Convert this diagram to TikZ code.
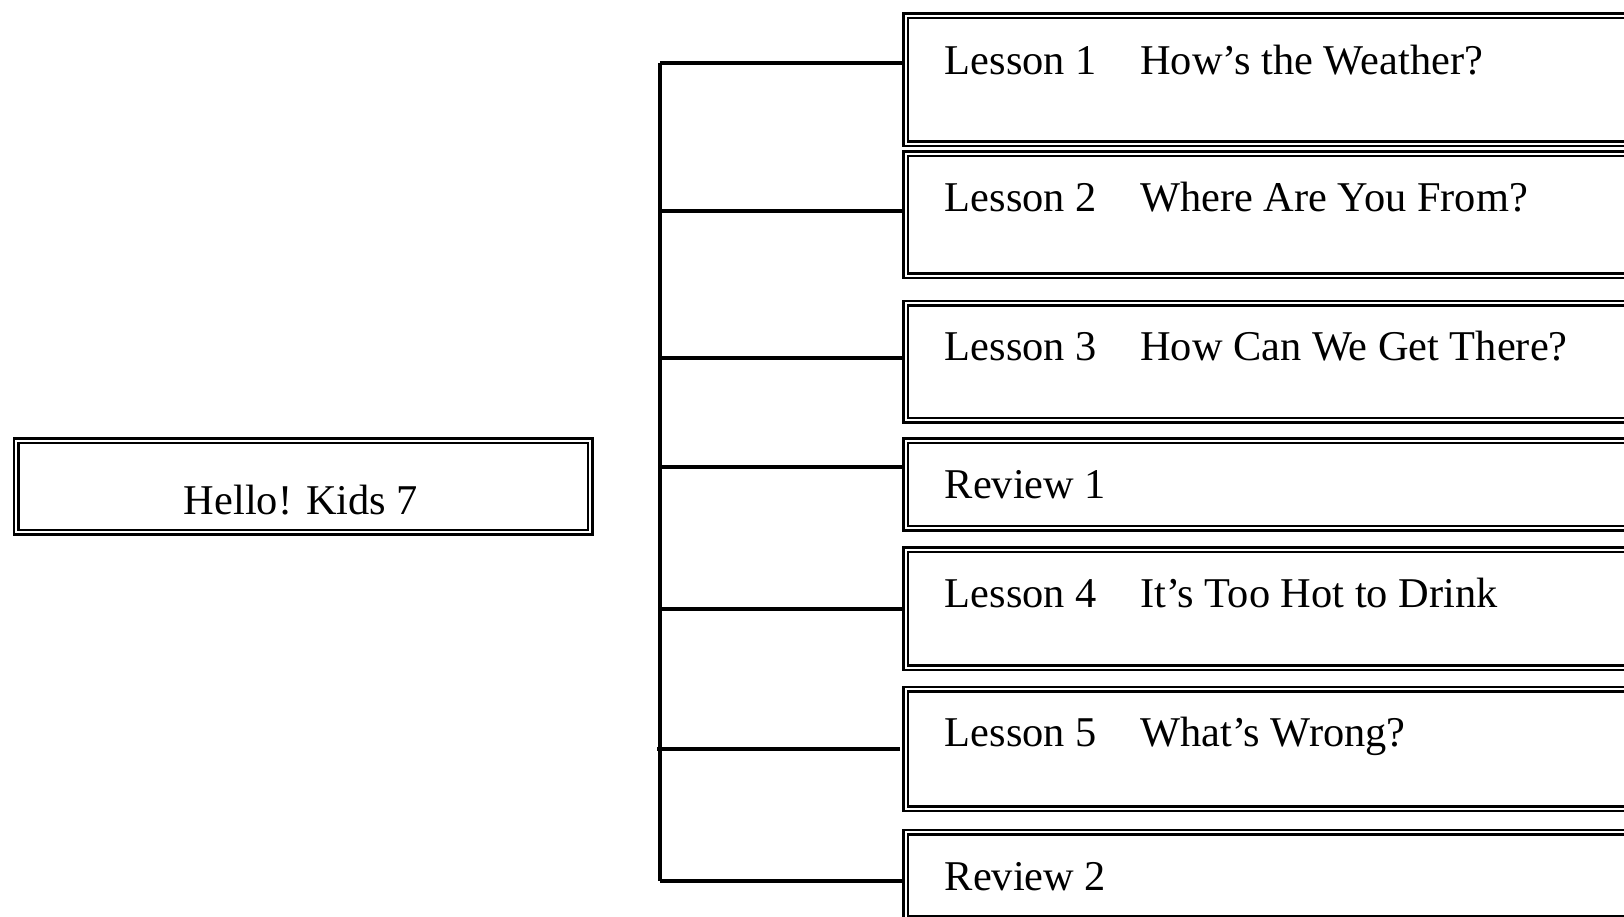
\documentclass[tikz,border=0pt]{standalone}
\usepackage{fontspec}
\setmainfont{Liberation Serif}
\begin{document}
\begin{tikzpicture}[x=1pt,y=-1pt,
  frame/.style={draw,line width=2.5pt,double,double distance=2pt,rectangle,inner sep=0pt,anchor=north west},
  lbl/.style={anchor=base west,inner sep=0pt,font=\fontsize{42.4}{50}\selectfont},
  conn/.style={line width=3.4pt}]
\useasboundingbox (0,0) rectangle (1624,917);
\clip (0,0) rectangle (1624,917);
\node[frame,minimum width=574pt,minimum height=91.4pt] (z) at (14.9,439.5) {};
\node[lbl,anchor=base] (zt) at (301,514.7) {Hello! Kids 7};
\node[frame,minimum width=796pt,minimum height=128pt] (a) at (904.5,14.5) {};
\node[frame,minimum width=796pt,minimum height=122pt] (b) at (904.5,152.5) {};
\node[frame,minimum width=796pt,minimum height=117.4pt] (c) at (904.5,301.8) {};
\node[frame,minimum width=796pt,minimum height=87.4pt] (d) at (904.5,439.5) {};
\node[frame,minimum width=796pt,minimum height=118.4pt] (e) at (904.5,548.3) {};
\node[frame,minimum width=796pt,minimum height=119.4pt] (f) at (904.5,688.1) {};
\node[frame,minimum width=796pt,minimum height=86pt] (g) at (904.5,831) {};
\node[lbl] (a1) at (944.6,74.6) {Lesson 1};
\node[lbl] (a2) at (1140,74.6) {How’s the Weather?};
\node[lbl] (b1) at (944.6,211.5) {Lesson 2};
\node[lbl] (b2) at (1140,211.5) {Where Are You From?};
\node[lbl] (c1) at (944.6,360.5) {Lesson 3};
\node[lbl] (c2) at (1140,360.5) {How Can We Get There?};
\node[lbl] (d1) at (944.6,498) {Review 1};
\node[lbl] (e1) at (944.6,607) {Lesson 4};
\node[lbl] (e2) at (1140,607) {It’s Too Hot to Drink};
\node[lbl] (f1) at (944.6,746.5) {Lesson 5};
\node[lbl] (f2) at (1140,746.5) {What’s Wrong?};
\node[lbl] (g1) at (944.6,890.5) {Review 2};
\coordinate (s1) at (660,63);
\coordinate (s2) at (660,211);
\coordinate (s3) at (660,358);
\coordinate (s4) at (660,467);
\coordinate (s5) at (660,609);
\coordinate (s6) at (657,749);
\coordinate (s7) at (660,881);
\draw[conn] (s1) -- (s7);
\draw[conn] (s1) -- (a.west |- s1);
\draw[conn] (s2) -- (b.west |- s2);
\draw[conn] (s3) -- (c.west |- s3);
\draw[conn] (s4) -- (d.west |- s4);
\draw[conn] (s5) -- (e.west |- s5);
\draw[conn,shorten >=5pt] (s6) -- (f.west |- s6);
\draw[conn] (s7) -- (g.west |- s7);
\end{tikzpicture}
\end{document}
